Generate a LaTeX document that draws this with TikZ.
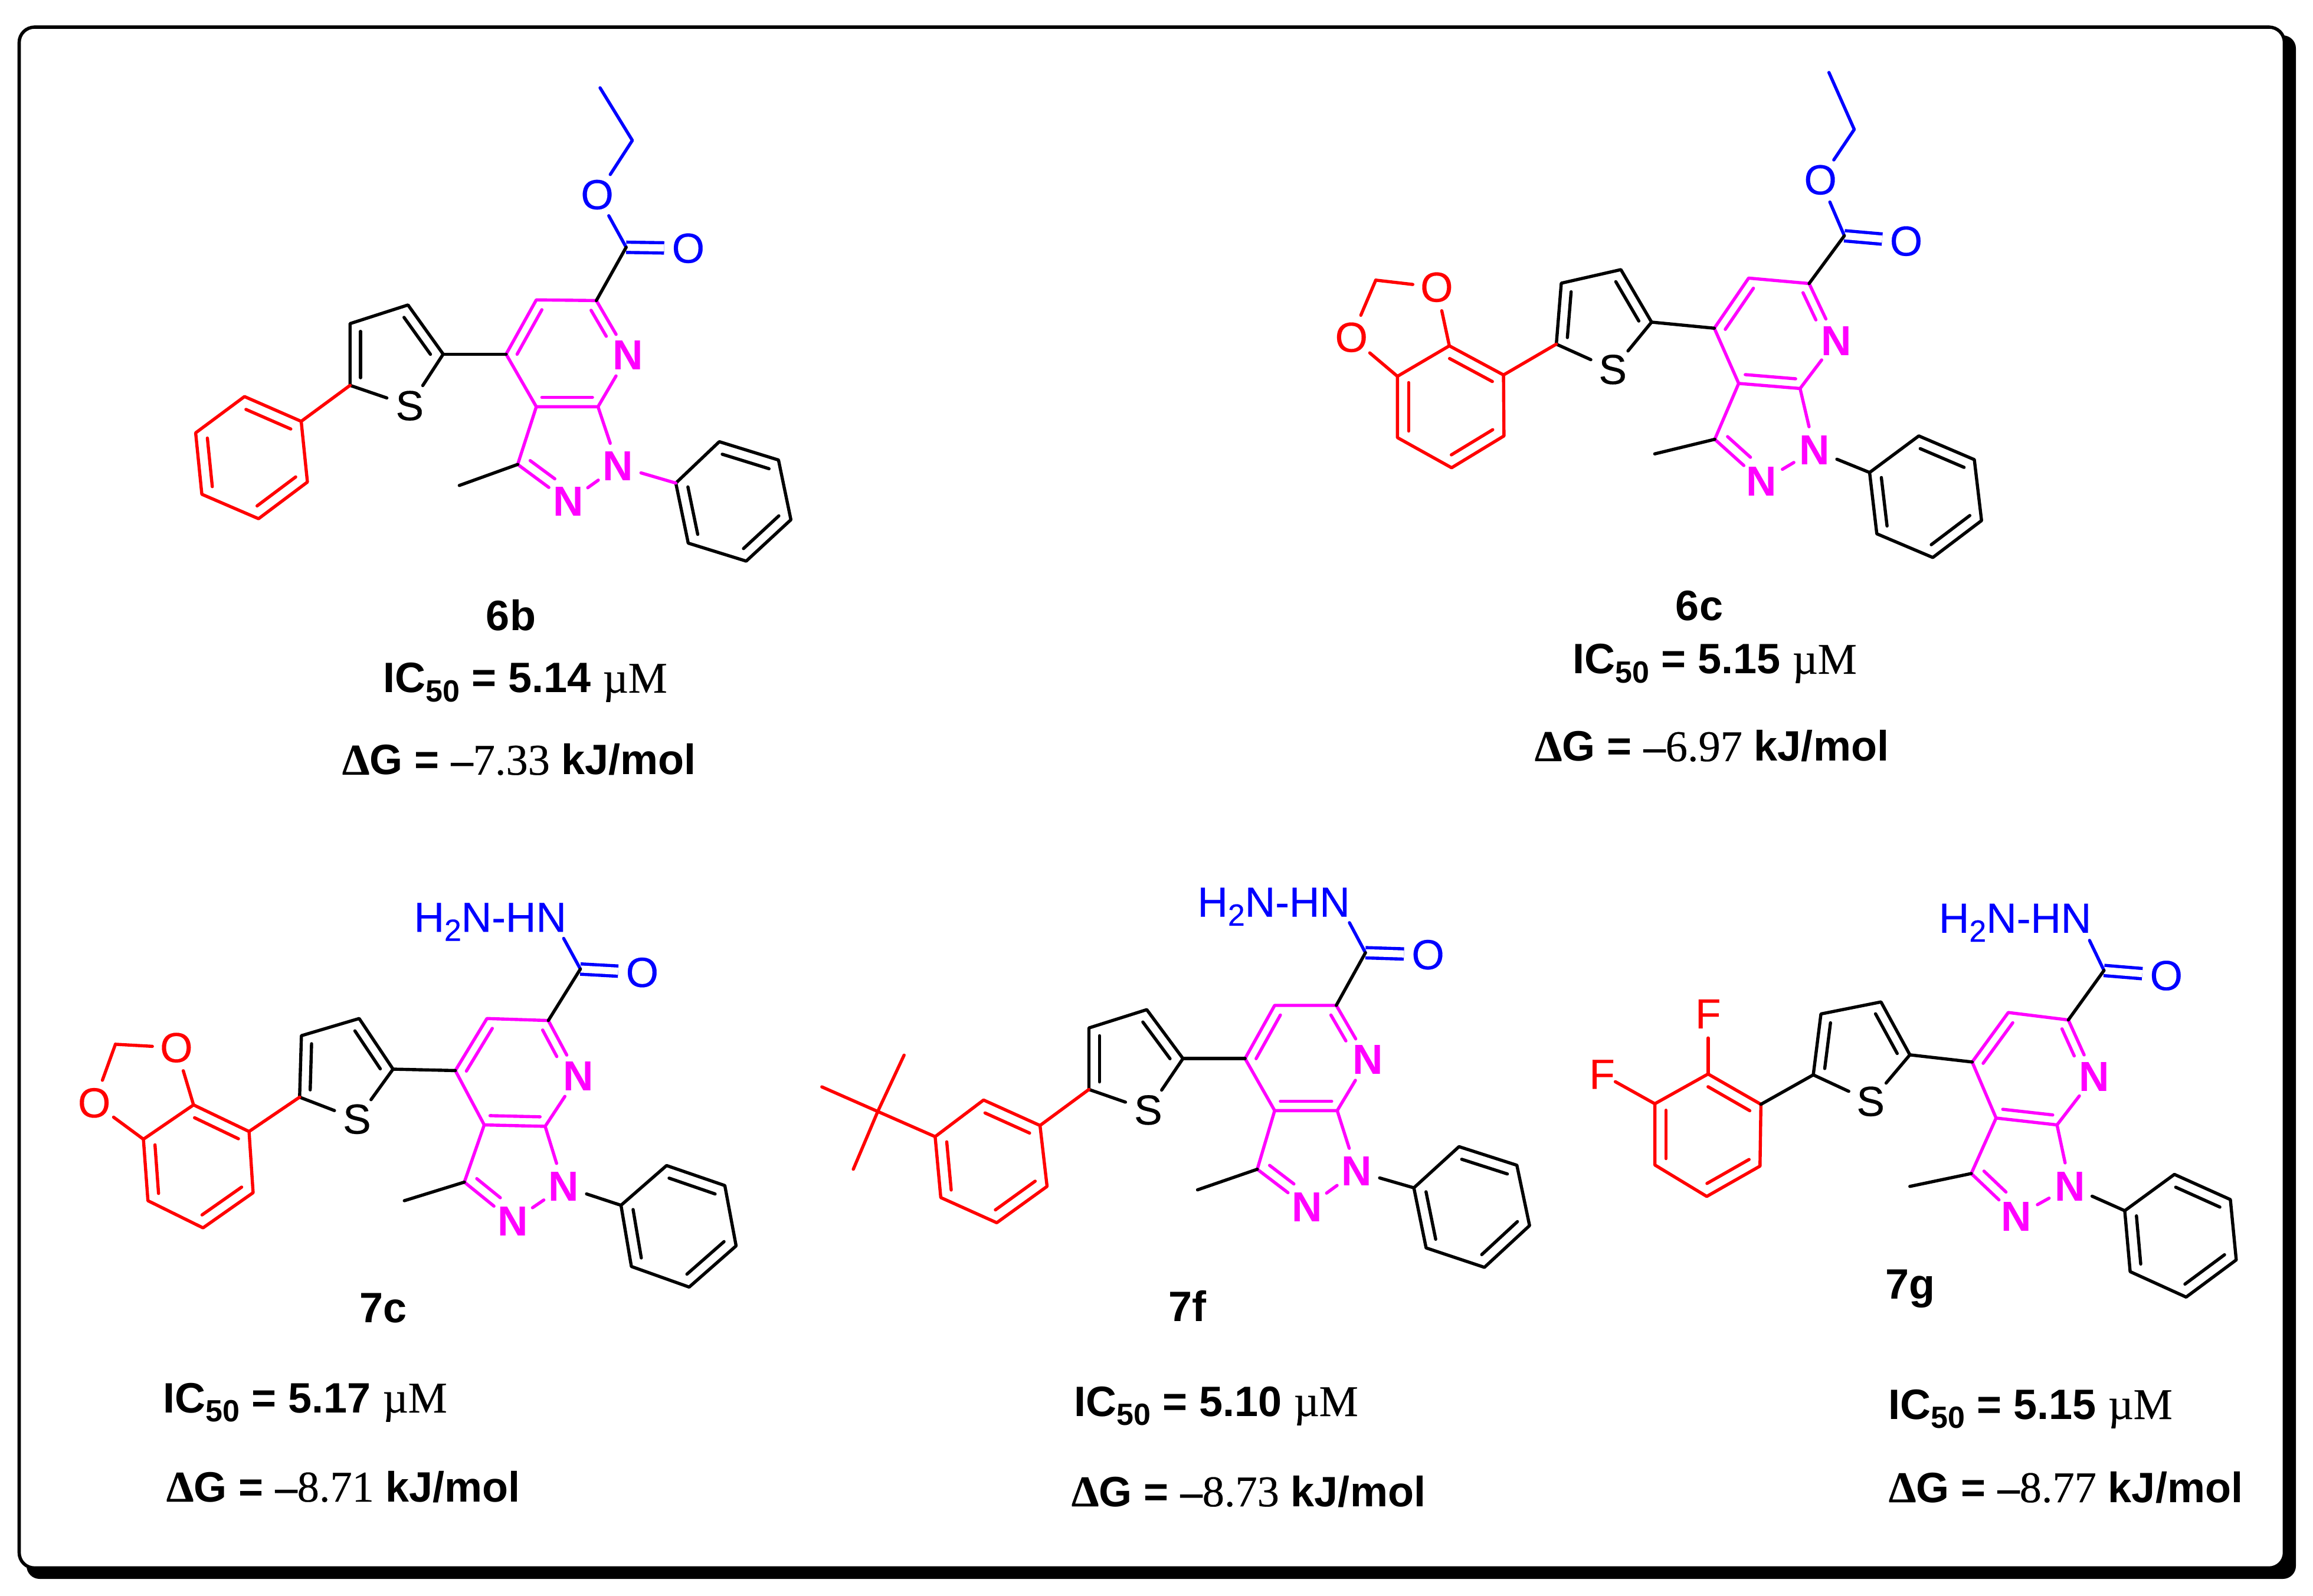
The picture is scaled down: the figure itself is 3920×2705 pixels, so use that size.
\documentclass[tikz,border=0pt]{standalone}
\usepackage{fontspec}
\usetikzlibrary{calc}
\setmainfont{Liberation Sans}
\newfontfamily\serifF{Liberation Serif}[FakeBold=0.35]
\newfontfamily\atomF{Liberation Sans}[FakeBold=0.3]
\definecolor{mg}{RGB}{255,0,255}
\definecolor{bl}{RGB}{0,0,255}
\definecolor{rd}{RGB}{255,0,0}
\tikzset{
  bond/.style={line width=1.35pt,line cap=round,line join=round},
  cdbl/.style={bl,line width=1.35pt,line cap=butt,double=white,double distance=3pt},
  atom/.style={circle,inner sep=0pt,minimum size=20pt,font=\atomF\fontsize{17.8}{18}\selectfont},
  atomr/.style={rectangle,inner sep=0pt,font=\atomF\fontsize{17.8}{18}\selectfont},
  atomb/.style={atom,mg,font=\rmfamily\fontsize{17.8}{18}\selectfont\bfseries},
  hydr/.style={inner sep=0pt,anchor=base east,bl,font=\atomF\fontsize{17.8}{18}\selectfont},
  lbl/.style={inner sep=0pt,anchor=base west,font=\fontsize{18}{18}\selectfont\bfseries},
  lblc/.style={inner sep=0pt,anchor=base,font=\fontsize{18}{18}\selectfont\bfseries},
}
\newcommand\atm[2]{\coordinate (#1) at (#2);}
\newcommand\subn[1]{\raisebox{-3.8pt}{\fontsize{13}{13}\selectfont #1}}
\newcommand\serS[1]{{\serifF\fontsize{18.6}{19}\selectfont #1}}
\newcommand\icf[1]{IC\subn{50} = #1 \serS{\mdseries µM}}
\newcommand\dgf[1]{\serS{Δ}G = \serS{–\mdseries #1} kJ/mol}
% inner line of a double bond: colour, a, b, ring centre, fraction, length
\newcommand\dbl[6]{%
  \coordinate (tP) at ($(#2)!#5!(#4)$);
  \coordinate (tQ) at ($(#3)!#5!(#4)$);
  \draw[bond,#1] (tP) -- ($(tP)!#6!(tQ)$);
}
\newcommand\hexa[2]{% colour, prefix letter
  \coordinate (#2c) at ($(#21)!.5!(#24)$);
  \draw[bond,#1] (#21)--(#22)--(#23)--(#24)--(#25)--(#26)--cycle;
}
% colours: N1-phenyl bond, thiophene-aryl bond
\newcommand\corebonds[2]{%
  \coordinate (pyc) at ($(c4)!.5!(n7)$);
  \coordinate (pzc) at ($.2*(c3a)+.2*(c7a)+.2*(n1)+.2*(n2)+.2*(c3)$);
  \coordinate (thc) at ($.2*(t2)+.2*(t3)+.2*(t4)+.2*(t5)+.2*(sa)$);
  \draw[bond,mg] (c4)--(c5)--(c6);
  \draw[bond,mg] (c6)--(n7);
  \draw[bond,mg] (n7)--(c7a);
  \draw[bond,mg] (c7a)--(c3a)--(c4);
  \draw[bond,mg] (c3a)--(c3);
  \draw[bond,mg] (c3)--(n2);
  \draw[bond,mg] (n2)--(n1);
  \draw[bond,mg] (n1)--(c7a);
  \dbl{mg}{c4}{c5}{pyc}{.18}{1}
  \dbl{mg}{c3a}{c7a}{pyc}{.18}{1}
  \dbl{mg}{c6}{n7}{pyc}{.18}{.58}
  \dbl{mg}{c3}{n2}{pzc}{.25}{.65}
  \draw[bond] (c3)--(me);
  \draw[bond] (c4)--(t2);
  \draw[bond] (t2)--(t3)--(t4)--(t5);
  \draw[bond] (t5)--(sa);
  \draw[bond] (sa)--(t2);
  \dbl{black}{t2}{t3}{thc}{.25}{1}
  \dbl{black}{t4}{t5}{thc}{.25}{1}
  \hexa{black}{p}
  \dbl{black}{p2}{p3}{pc}{.21}{1}
  \dbl{black}{p4}{p5}{pc}{.21}{1}
  \dbl{black}{p6}{p1}{pc}{.21}{1}
  \draw[bond,#1] (n1)--(p1);
  \hexa{rd}{r}
  \dbl{rd}{r1}{r2}{rc}{.21}{1}
  \dbl{rd}{r3}{r4}{rc}{.21}{1}
  \dbl{rd}{r5}{r6}{rc}{.21}{1}
  \draw[bond,#2] (t5)--(r1);
}
\newcommand\ester{%
  \draw[cdbl] (cc)--(ok);
  \draw[bond,bl] (cc)--(oe);
  \draw[bond,bl] (oe)--(ch2)--(ch3);
  \draw[bond] (c6)--(cc);
}
\newcommand\hydra{%
  \draw[cdbl] (cc)--(ok);
  \draw[bond,bl] (cc)--(nh);
  \draw[bond] (c6)--(cc);
}
\newcommand\dioxole{%
  \draw[bond,rd] (r2)--(oa);
  \draw[bond,rd] (oa)--(cd);
  \draw[bond,rd] (cd)--(ob);
  \draw[bond,rd] (ob)--(r3);
}
\begin{document}
\begin{tikzpicture}[x=.25pt,y=-.25pt]
\useasboundingbox (0,0) rectangle (3920,2705);
\fill[white] (0,0) rectangle (3920,2705);
\fill[black,rounded corners=5.5pt] (45,60) rectangle (3891,2676);
\draw[line width=1.4pt,fill=white,rounded corners=6.5pt] (32.5,46) rectangle (3871.5,2657.5);

% ---------- 6b ----------
\begin{scope}[shift={(300,100)},x=.17538pt,y=-.14375pt,name prefix=mb-]
\atm{c4}{795,870}\atm{c5}{868,710}\atm{c6}{1013,712}\atm{c7a}{1017,1025}\atm{c3a}{868,1025}\atm{c3}{823,1195}
\atm{me}{682,1257}\atm{cc}{1085,555}\atm{ch2}{1100,240}\atm{ch3}{1022,85}
\atm{t2}{643,870}\atm{t3}{558,725}\atm{t4}{418,780}\atm{t5}{418,962}
\atm{r1}{300,1068}\atm{r2}{163,995}\atm{r3}{45,1102}\atm{r4}{60,1283}\atm{r5}{197,1355}\atm{r6}{315,1247}
\atm{p1}{1205,1250}\atm{p2}{1310,1128}\atm{p3}{1453,1182}\atm{p4}{1483,1358}\atm{p5}{1375,1480}\atm{p6}{1235,1427}
\node[atomb] (n7) at (1090,873) {N};
\node[atomb] (n1) at (1065,1200) {N};
\node[atomb] (n2) at (945,1305) {N};
\node[atom] (sa) at (562,1022) {S};
\node[atom,bl] (oe) at (1015,400) {O};
\node[atom,bl] (ok) at (1235,558) {O};
\corebonds{mg}{rd}
\ester
\end{scope}

% ---------- 6c ----------
\begin{scope}[shift={(2200,100)},x=.19125pt,y=-.1435pt,name prefix=mc-]
\atm{c4}{922,795}\atm{c5}{998,647}\atm{c6}{1132,663}\atm{c7a}{1112,973}\atm{c3a}{976,958}\atm{c3}{923,1123}
\atm{me}{790,1166}\atm{cc}{1210,522}\atm{ch2}{1232,208}\atm{ch3}{1176,40}
\atm{t2}{783,777}\atm{t3}{715,622}\atm{t4}{583,662}\atm{t5}{572,842}
\atm{r1}{455,933}\atm{r2}{335,847}\atm{r3}{220,937}\atm{r4}{220,1118}\atm{r5}{340,1207}\atm{r6}{456,1113}
\atm{p1}{1266,1221}\atm{p2}{1375,1113}\atm{p3}{1498,1183}\atm{p4}{1514,1363}\atm{p5}{1406,1472}\atm{p6}{1282,1402}
\atm{cd}{172,653}
\node[atomb] (n7) at (1192,832) {N};
\node[atomb] (n1) at (1144,1155) {N};
\node[atomb] (n2) at (1027,1248) {N};
\node[atom] (sa) at (697,917) {S};
\node[atom,bl] (oe) at (1157,357) {O};
\node[atom,bl] (ok) at (1347,538) {O};
\node[atom,rd] (oa) at (307,674) {O};
\node[atom,rd] (ob) at (118,822) {O};
\corebonds{black}{rd}
\dioxole
\ester
\end{scope}

% ---------- 7c ----------
\begin{scope}[shift={(100,1480)},x=.19125pt,y=-.12118pt,name prefix=nc-]
\atm{c4}{878,690}\atm{c5}{948,508}\atm{c6}{1084,515}\atm{c7a}{1077,885}\atm{c3a}{942,880}\atm{c3}{898,1080}
\atm{me}{765,1145}\atm{cc}{1155,335}\atm{nh}{1118,228}
\atm{t2}{740,685}\atm{t3}{665,508}\atm{t4}{537,568}\atm{t5}{533,783}
\atm{r1}{421,903}\atm{r2}{298,810}\atm{r3}{187,930}\atm{r4}{197,1145}\atm{r5}{319,1240}\atm{r6}{430,1117}
\atm{p1}{1245,1161}\atm{p2}{1346,1022}\atm{p3}{1475,1092}\atm{p4}{1500,1303}\atm{p5}{1396,1447}\atm{p6}{1268,1375}
\atm{cd}{125,598}
\node[atomb] (n7) at (1150,710) {N};
\node[atomb] (n1) at (1118,1095) {N};
\node[atomb] (n2) at (1005,1217) {N};
\node[atom] (sa) at (660,860) {S};
\node[atom,bl] (ok) at (1292,347) {O};
\node[atom,rd] (oa) at (260,610) {O};
\node[atom,rd] (ob) at (78,803) {O};
\node[hydr] (hh) at (1125,205) {H\subn{2}N-HN};
\corebonds{black}{rd}
\dioxole
\hydra
\end{scope}

% ---------- 7f ----------
\begin{scope}[shift={(1380,1480)},x=.19925pt,y=-.12118pt,name prefix=nf-]
\atm{c4}{916,648}\atm{c5}{979,462}\atm{c6}{1110,462}\atm{c7a}{1112,830}\atm{c3a}{979,830}\atm{c3}{942,1035}
\atm{me}{815,1107}\atm{cc}{1172,278}\atm{nh}{1138,173}
\atm{t2}{784,648}\atm{t3}{707,477}\atm{t4}{584,541}\atm{t5}{584,756}
\atm{r1}{480,882}\atm{r2}{360,793}\atm{r3}{257,921}\atm{r4}{269,1134}\atm{r5}{388,1222}\atm{r6}{495,1095}
\atm{p1}{1275,1100}\atm{p2}{1371,956}\atm{p3}{1494,1021}\atm{p4}{1521,1232}\atm{p5}{1425,1378}\atm{p6}{1301,1310}
\atm{tb}{135,833}\atm{tb1}{16,747}\atm{tb2}{191,636}\atm{tb3}{83,1035}
\node[atomb] (n7) at (1177,652) {N};
\node[atomb] (n1) at (1153,1042) {N};
\node[atomb] (n2) at (1048,1168) {N};
\node[atom] (sa) at (710,828) {S};
\node[atom,bl] (ok) at (1305,285) {O};
\node[hydr] (hh) at (1140,152) {H\subn{2}N-HN};
\corebonds{black}{rd}
\draw[bond,rd] (r3)--(tb);
\draw[bond,rd] (tb)--(tb1);
\draw[bond,rd] (tb)--(tb2);
\draw[bond,rd] (tb)--(tb3);
\hydra
\end{scope}

% ---------- 7g ----------
\begin{scope}[shift={(2650,1480)},x=.19125pt,y=-.12118pt,name prefix=ng-]
\atm{c4}{905,660}\atm{c5}{985,487}\atm{c6}{1118,513}\atm{c7a}{1093,880}\atm{c3a}{958,856}\atm{c3}{903,1050}
\atm{me}{767,1095}\atm{cc}{1197,340}\atm{nh}{1165,235}
\atm{t2}{767,635}\atm{t3}{703,450}\atm{t4}{570,492}\atm{t5}{553,705}
\atm{r1}{437,808}\atm{r2}{320,702}\atm{r3}{202,806}\atm{r4}{202,1020}\atm{r5}{317,1130}\atm{r6}{435,1024}
\atm{p1}{1243,1180}\atm{p2}{1353,1053}\atm{p3}{1477,1141}\atm{p4}{1490,1352}\atm{p5}{1379,1482}\atm{p6}{1255,1393}
\node[atomb] (n7) at (1175,712) {N};
\node[atomb] (n1) at (1122,1095) {N};
\node[atomb] (n2) at (1003,1200) {N};
\node[atom] (sa) at (680,798) {S};
\node[atom,bl] (ok) at (1335,358) {O};
\node[atom,rd] (fa) at (320,492) {F};
\node[atomr,rd] (fb) at (85,703) {F};
\node[hydr] (hh) at (1170,208) {H\subn{2}N-HN};
\corebonds{black}{black}
\draw[bond,rd] (r2)--(fa);
\draw[bond,rd] (r3)--(fb);
\hydra
\end{scope}

% ---------- labels ----------
\node[lblc] (lb6b) at (866,1069) {6b};
\node[lbl] (ic6b) at (649,1174) {\icf{5.14}};
\node[lbl] (dg6b) at (579,1313) {\dgf{7.33}};
\node[lblc] (lb6c) at (2880,1052) {6c};
\node[lbl] (ic6c) at (2665,1142) {\icf{5.15}};
\node[lbl] (dg6c) at (2600,1290) {\dgf{6.97}};
\node[lblc] (lb7c) at (650,2241) {7c};
\node[lbl] (ic7c) at (276,2394) {\icf{5.17}};
\node[lbl] (dg7c) at (281,2545) {\dgf{8.71}};
\node[lblc] (lb7f) at (2012,2239) {7f};
\node[lbl] (ic7f) at (1820,2400) {\icf{5.10}};
\node[lbl] (dg7f) at (1815,2553) {\dgf{8.73}};
\node[lblc] (lb7g) at (3237,2201) {7g};
\node[lbl] (ic7g) at (3200,2405) {\icf{5.15}};
\node[lbl] (dg7g) at (3200,2546) {\dgf{8.77}};
\end{tikzpicture}
\end{document}
